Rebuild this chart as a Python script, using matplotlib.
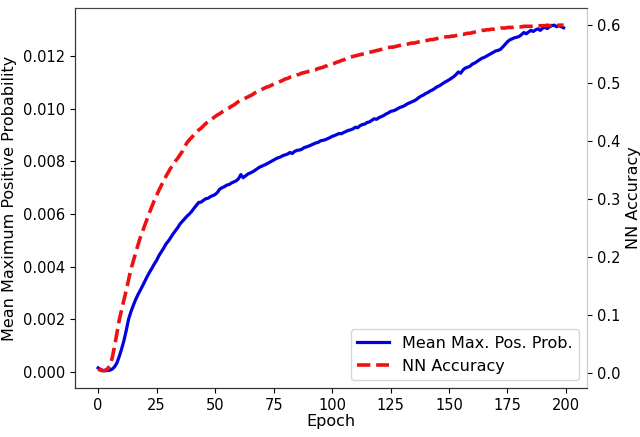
import numpy as np
import matplotlib
matplotlib.use("Agg")
import matplotlib.pyplot as plt

# mean max positive probability, x1e-3, one value per epoch
prob = [
    0.15, 0.09, 0.05, 0.04, 0.05, 0.06, 0.10, 0.19, 0.33, 0.58,
    0.86, 1.18, 1.57, 2.00, 2.28, 2.52, 2.74, 2.93, 3.10, 3.27,
    3.45, 3.63, 3.79, 3.94, 4.10, 4.24, 4.42, 4.56, 4.70, 4.86,
    4.97, 5.10, 5.24, 5.36, 5.48, 5.62, 5.72, 5.82, 5.92, 6.00,
    6.10, 6.22, 6.33, 6.44, 6.45, 6.52, 6.58, 6.60, 6.66, 6.70,
    6.74, 6.82, 6.95, 7.00, 7.04, 7.10, 7.12, 7.18, 7.22, 7.26,
    7.34, 7.50, 7.38, 7.45, 7.52, 7.56, 7.60, 7.66, 7.72, 7.78,
    7.82, 7.86, 7.90, 7.95, 8.00, 8.05, 8.10, 8.14, 8.17, 8.22,
    8.25, 8.28, 8.34, 8.30, 8.38, 8.42, 8.43, 8.46, 8.52, 8.55,
    8.58, 8.62, 8.66, 8.70, 8.72, 8.78, 8.80, 8.82, 8.86, 8.90,
    8.95, 8.98, 9.02, 9.06, 9.05, 9.10, 9.14, 9.18, 9.20, 9.24,
    9.30, 9.28, 9.36, 9.40, 9.42, 9.48, 9.50, 9.56, 9.62, 9.60,
    9.66, 9.70, 9.74, 9.80, 9.84, 9.90, 9.92, 9.95, 10.00, 10.05,
    10.08, 10.12, 10.18, 10.22, 10.26, 10.30, 10.35, 10.42, 10.48, 10.52,
    10.58, 10.62, 10.68, 10.72, 10.78, 10.84, 10.88, 10.94, 11.00, 11.05,
    11.10, 11.16, 11.22, 11.30, 11.40, 11.35, 11.48, 11.55, 11.58, 11.62,
    11.70, 11.74, 11.80, 11.86, 11.92, 11.95, 12.00, 12.05, 12.10, 12.15,
    12.20, 12.22, 12.26, 12.35, 12.45, 12.55, 12.62, 12.66, 12.70, 12.72,
    12.75, 12.82, 12.90, 12.85, 12.92, 12.98, 12.94, 13.00, 13.04, 12.98,
    13.06, 13.10, 13.05, 13.12, 13.16, 13.18, 13.12, 13.16, 13.12, 13.08,
]

# NN accuracy, one value per epoch
acc = [
    0.006, 0.004, 0.003, 0.004, 0.006, 0.012, 0.025, 0.045, 0.068, 0.090,
    0.108, 0.125, 0.142, 0.160, 0.178, 0.192, 0.206, 0.220, 0.233, 0.244,
    0.255, 0.266, 0.277, 0.287, 0.297, 0.306, 0.315, 0.323, 0.331, 0.339,
    0.346, 0.353, 0.359, 0.365, 0.370, 0.376, 0.382, 0.390, 0.397, 0.402,
    0.406, 0.411, 0.415, 0.419, 0.422, 0.426, 0.430, 0.433, 0.436, 0.439,
    0.442, 0.445, 0.447, 0.450, 0.452, 0.455, 0.457, 0.460, 0.462, 0.465,
    0.468, 0.470, 0.472, 0.474, 0.476, 0.478, 0.480, 0.483, 0.485, 0.487,
    0.489, 0.491, 0.493, 0.494, 0.496, 0.498, 0.500, 0.501, 0.503, 0.505,
    0.507, 0.508, 0.510, 0.511, 0.512, 0.514, 0.515, 0.517, 0.518, 0.519,
    0.520, 0.521, 0.522, 0.523, 0.525, 0.526, 0.527, 0.529, 0.530, 0.532,
    0.533, 0.534, 0.536, 0.537, 0.539, 0.540, 0.542, 0.543, 0.545, 0.546,
    0.547, 0.548, 0.549, 0.550, 0.551, 0.552, 0.553, 0.554, 0.555, 0.556,
    0.557, 0.558, 0.559, 0.560, 0.561, 0.562, 0.562, 0.563, 0.564, 0.565,
    0.566, 0.566, 0.567, 0.568, 0.569, 0.569, 0.570, 0.571, 0.572, 0.572,
    0.573, 0.574, 0.575, 0.575, 0.576, 0.577, 0.578, 0.578, 0.579, 0.580,
    0.580, 0.581, 0.581, 0.582, 0.583, 0.584, 0.584, 0.585, 0.586, 0.586,
    0.587, 0.588, 0.589, 0.590, 0.591, 0.591, 0.592, 0.592, 0.593, 0.593,
    0.594, 0.594, 0.595, 0.595, 0.595, 0.596, 0.596, 0.596, 0.597, 0.597,
    0.597, 0.597, 0.598, 0.598, 0.598, 0.598, 0.598, 0.599, 0.599, 0.599,
    0.599, 0.599, 0.600, 0.599, 0.600, 0.600, 0.599, 0.600, 0.600, 0.600,
]

epochs = np.arange(len(prob))
prob = np.array(prob) / 1000.0

plt.rcParams['font.size'] = 11.5
plt.rcParams['xtick.labelsize'] = 10.5
plt.rcParams['ytick.labelsize'] = 10.5

fig = plt.figure(figsize=(6.4, 4.37), dpi=100)
ax = fig.add_axes([0.117, 0.112, 0.8, 0.87])
l1, = ax.plot(epochs, prob, color='#0000e0', lw=2.3, label='Mean Max. Pos. Prob.')
ax.set_xlabel('Epoch', labelpad=1)
ax.set_ylabel('Mean Maximum Positive Probability', labelpad=4)
ax.set_xticks([0, 25, 50, 75, 100, 125, 150, 175, 200])

ax2 = ax.twinx()
l2, = ax2.plot(epochs, acc, color='#ee1111', lw=2.6, ls='--', label='NN Accuracy')
ax2.set_ylabel('NN Accuracy', labelpad=4)
ax2.spines['right'].set_color('#cccccc')
ax.spines['right'].set_color('#cccccc')
for a in (ax, ax2):
    a.spines['top'].set_color('#444444')
    a.spines['left'].set_color('#333333')
    a.spines['bottom'].set_color('#333333')

ax2.legend([l1, l2], [l1.get_label(), l2.get_label()], loc='lower right')

fig.savefig('out.png')
